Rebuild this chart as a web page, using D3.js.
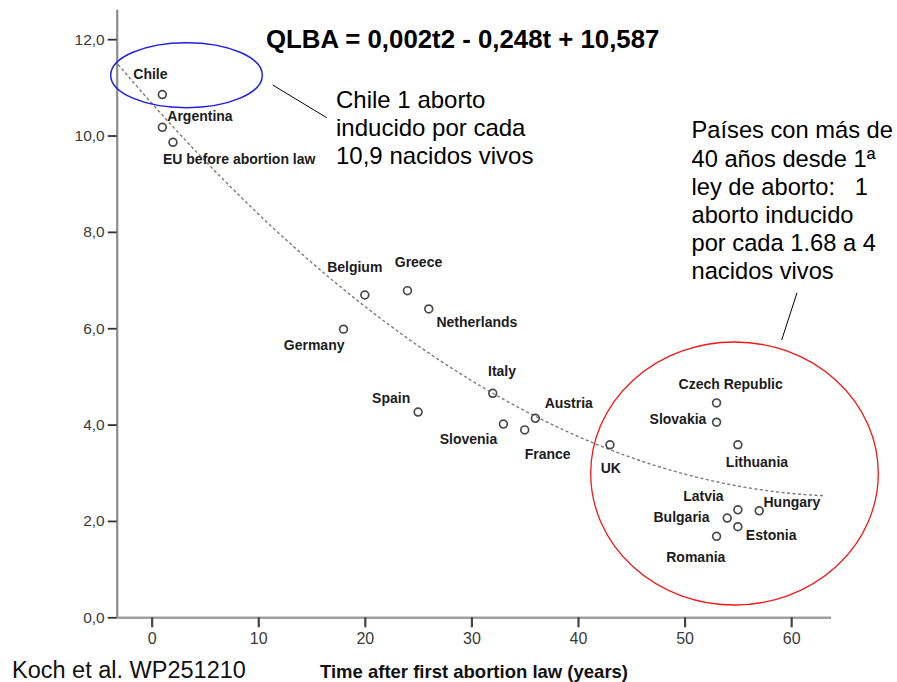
<!DOCTYPE html>
<html>
<head>
<meta charset="utf-8">
<script src="https://cdn.jsdelivr.net/npm/d3@7/dist/d3.min.js"></script>
<style>
  html, body { margin: 0; padding: 0; background: #fff; }
  svg { display: block; }
  text { font-family: "Liberation Sans", Arial, Helvetica, sans-serif; }
</style>
</head>
<body>
<svg id="chart" width="897" height="682"></svg>
<script>
// ---- data ----
const countries = ["Chile","Argentina","EU before abortion law","Germany","Belgium","Greece","Netherlands","Spain","Italy","Slovenia","France","Austria","UK","Czech Republic","Slovakia","Lithuania","Latvia","Hungary","Bulgaria","Estonia","Romania"];
const yearsSinceLaw = [1, 1, 2, 18, 20, 24, 26, 25, 32, 33, 35, 36, 43, 53, 53, 55, 55, 57, 54, 55, 53];
const birthsPerAbortion = [10.85, 10.17, 9.86, 5.98, 6.69, 6.78, 6.40, 4.26, 4.65, 4.01, 3.89, 4.13, 3.58, 4.45, 4.05, 3.58, 2.23, 2.21, 2.06, 1.88, 1.68];
const xTicks = [0, 10, 20, 30, 40, 50, 60];
const yTicks = [0, 2, 4, 6, 8, 10, 12];
// quadratic fit line (as drawn): c + b*t + a*t^2
const fitCoef = { c: 10.673, b: -0.2489, a: 0.001898 };
const fitRange = [-3.15, 63.2];
const titleText = "QLBA = 0,002t2 - 0,248t + 10,587";
const chileNote = ["Chile 1 aborto", "inducido por cada", "10,9 nacidos vivos"];
const oldLawNote = ["Países con más de", "40 años desde 1ª", "ley de aborto:   1", "aborto inducido", "por cada 1.68 a 4", "nacidos vivos"];
const xTitle = "Time after first abortion law (years)";
const sourceText = "Koch et al. WP251210";

// ---- layout (label offsets relative to point, px: left edge / baseline) ----
const labelOffset = {
  "Chile": [-29, -15.4], "Argentina": [5, -6.5], "EU before abortion law": [-10, 22],
  "Germany": [-59.7, 21], "Belgium": [-37.7, -22.7], "Greece": [-12.7, -23.4],
  "Netherlands": [7.7, 18.3], "Spain": [-46, -9], "Italy": [-4.7, -17.5],
  "Slovenia": [-63.7, 19.7], "France": [0, 29.3], "Austria": [9.3, -10],
  "UK": [-9.3, 28], "Czech Republic": [-38, -13.7], "Slovakia": [-67, 2],
  "Lithuania": [-12, 22], "Latvia": [-54.7, -9], "Hungary": [4.3, -4],
  "Bulgaria": [-73.7, 3.7], "Estonia": [8, 13.3], "Romania": [-50.3, 25.4]
};

const svg = d3.select("#chart");
const x = d3.scaleLinear().domain([-3.28, 63.7]).range([116.7, 830.6]);
const y = d3.scaleLinear().domain([0, 12.62]).range([617.3, 9.3]);
const fmt = v => d3.format(".1f")(v).replace(".", ",");

// axes
const yAxis = svg.append("g").attr("transform", `translate(${x.range()[0]},0)`)
  .call(d3.axisLeft(y).tickValues(yTicks).tickSize(9).tickSizeOuter(0).tickPadding(3).tickFormat(fmt));
yAxis.select(".domain").attr("stroke", "#8c8c8c").attr("stroke-width", 2.2);
yAxis.selectAll(".tick line").attr("stroke", "#333").attr("stroke-width", 1.8);
yAxis.selectAll(".tick text").attr("fill", "#3a3a3a").style("font-size", "15.5px")
  .style("font-family", "'Liberation Sans', Arial, sans-serif");

const xAxis = svg.append("g").attr("transform", `translate(0,${y(0)})`)
  .call(d3.axisBottom(x).tickValues(xTicks).tickSize(10).tickSizeOuter(0).tickPadding(5).tickFormat(d3.format("d")));
xAxis.select(".domain").attr("stroke", "#a0a0a0").attr("stroke-width", 2.6);
xAxis.selectAll(".tick line").attr("stroke", "#444").attr("stroke-width", 2.2);
xAxis.selectAll(".tick text").attr("fill", "#3a3a3a").style("font-size", "16px")
  .style("font-family", "'Liberation Sans', Arial, sans-serif");

// fit curve
const curveT = d3.range(fitRange[0], fitRange[1] + 0.001, 0.25);
const line = d3.line().x(t => x(t)).y(t => y(fitCoef.c + fitCoef.b * t + fitCoef.a * t * t));
svg.append("path").datum(curveT).attr("d", line)
  .attr("fill", "none").attr("stroke", "#7a7a7a").attr("stroke-width", 1.4)
  .attr("stroke-dasharray", "3,2.5");

// points
const pts = countries.map((c, i) => ({ name: c, t: yearsSinceLaw[i], v: birthsPerAbortion[i] }));
svg.append("g").selectAll("circle").data(pts).join("circle")
  .attr("cx", d => x(d.t)).attr("cy", d => y(d.v)).attr("r", 3.9)
  .attr("fill", "none").attr("stroke", "#4a4a4a").attr("stroke-width", 1.7);

svg.append("g").selectAll("text").data(pts).join("text")
  .attr("x", d => x(d.t) + labelOffset[d.name][0])
  .attr("y", d => y(d.v) + labelOffset[d.name][1])
  .attr("fill", "#1c1c1c").style("font-size", "14px").style("font-weight", "bold")
  .text(d => d.name);

// highlight ellipses
svg.append("ellipse").attr("cx", 186.5).attr("cy", 75.2).attr("rx", 75.8).attr("ry", 32.5)
  .attr("fill", "none").attr("stroke", "#1f1fe6").attr("stroke-width", 1.5);
svg.append("ellipse").attr("cx", 734.5).attr("cy", 473.5).attr("rx", 143.8).attr("ry", 131.5)
  .attr("fill", "none").attr("stroke", "#f01818").attr("stroke-width", 1.3);

// pointer lines
svg.append("line").attr("x1", 272.7).attr("y1", 85).attr("x2", 326.7).attr("y2", 117.7)
  .attr("stroke", "#000").attr("stroke-width", 1);
svg.append("line").attr("x1", 797).attr("y1", 292.7).attr("x2", 781.7).attr("y2", 340)
  .attr("stroke", "#000").attr("stroke-width", 1);

// texts
svg.append("text").attr("x", 266).attr("y", 48.3).attr("fill", "#000")
  .style("font-size", "25.8px").style("font-weight", "bold").text(titleText);

svg.append("g").selectAll("text").data(chileNote).join("text")
  .attr("x", 336).attr("y", (d, i) => 107.7 + i * 28.3).attr("fill", "#000")
  .style("font-size", "24px").text(d => d);

svg.append("g").selectAll("text").data(oldLawNote).join("text")
  .attr("x", 691.5).attr("y", (d, i) => 138.3 + i * 28.2).attr("fill", "#000")
  .style("font-size", "23.7px").style("white-space", "pre").attr("xml:space", "preserve").text(d => d);

svg.append("text").attr("x", 474).attr("y", 678).attr("text-anchor", "middle").attr("fill", "#111")
  .style("font-size", "18.5px").style("font-weight", "bold").text(xTitle);

svg.append("text").attr("x", 12).attr("y", 678).attr("fill", "#111")
  .style("font-size", "23.5px").text(sourceText);
</script>
</body>
</html>
